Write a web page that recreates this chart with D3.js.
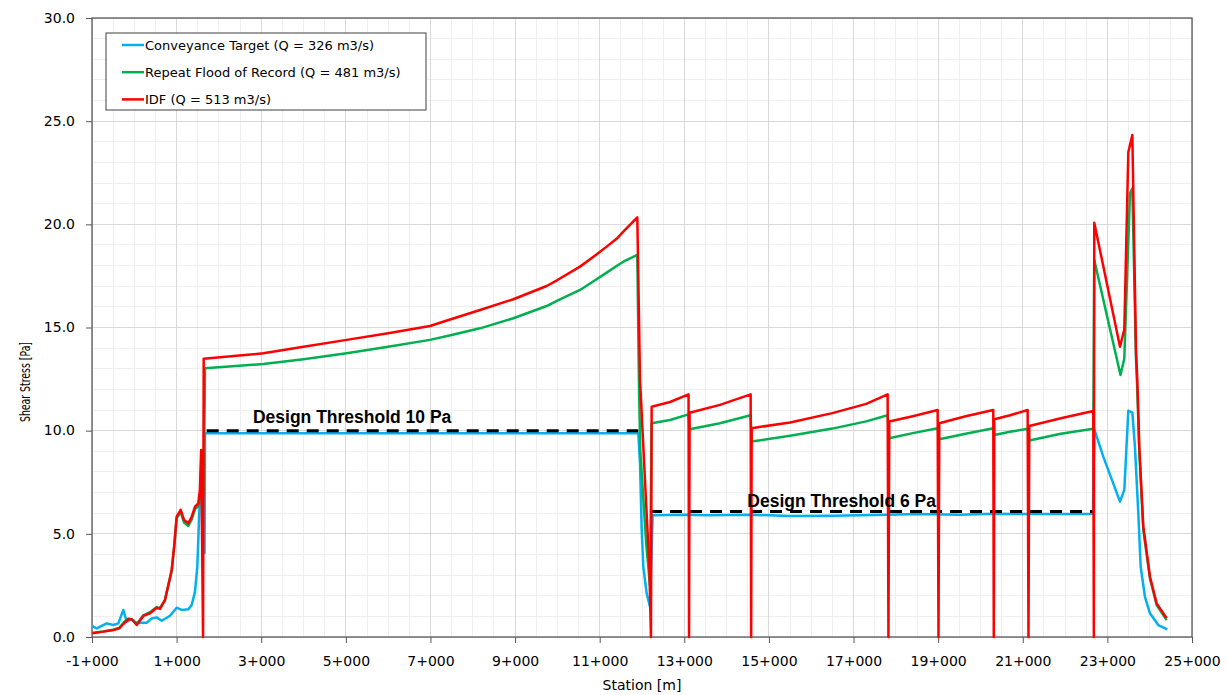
<!DOCTYPE html>
<html><head><meta charset="utf-8">
<script src="https://cdn.jsdelivr.net/npm/d3@7"></script>
<style>body{margin:0;background:#fff}svg{display:block}</style>
</head><body>
<svg id="chart" width="1228" height="695"></svg>
<script>
// ---------------- DATA ----------------
const seriesNames = [
  "Conveyance Target (Q = 326 m3/s)",
  "Repeat Flood of Record (Q = 481 m3/s)",
  "IDF (Q = 513 m3/s)"
];
const seriesColors = ["#00b0f0", "#00b050", "#ff0000"];

// [station (m), shear stress (Pa)]
const conveyanceTarget = [
  [-993,0.53],[-889,0.42],[-653,0.66],[-496,0.58],[-378,0.66],[-260,1.31],[-180,0.74],[-62,0.86],
  [57,0.69],[293,0.69],[411,0.9],[529,0.95],[647,0.79],[844,1.03],[1001,1.42],[1120,1.31],
  [1276,1.34],[1357,1.55],[1435,2.2],[1489,3.41],[1536,6.0],[1593,8.9],[1660,4.06],[1671,9.88],
  [3000,9.88],[5000,9.88],[7000,9.87],[9000,9.88],[11000,9.88],[11913,9.88],[11953,8.4],
  [11993,5.2],[12031,3.4],[12111,2.1],[12189,1.47],[12251,5.9],[13100,5.93],[13500,5.9],
  [14600,5.92],[15500,5.87],[16500,5.88],[17800,5.93],[18500,5.96],[19500,5.93],[20300,5.97],
  [21100,5.96],[22000,5.96],[22660,5.97],[22690,10.07],[22903,8.74],[23298,6.56],[23400,7.13],
  [23495,10.97],[23590,10.87],[23652,9.2],[23731,6.0],[23787,3.4],[23888,1.95],[24006,1.15],
  [24203,0.58],[24416,0.37]
];
const repeatFloodOfRecord = [
  [-993,0.2],[-733,0.27],[-496,0.35],[-355,0.45],[-260,0.68],[-142,0.9],[-62,0.85],[57,0.62],
  [213,1.05],[371,1.2],[529,1.45],[607,1.4],[725,1.8],[884,3.2],[945,4.4],[1001,5.75],
  [1096,6.05],[1175,5.55],[1276,5.38],[1357,5.7],[1435,6.2],[1513,6.35],[1560,6.7],[1640,7.0],
  [1671,13.02],[3049,13.23],[4000,13.46],[5020,13.75],[6000,14.07],[6989,14.4],[7500,14.64],
  [8171,14.96],[8959,15.45],[9747,16.04],[10000,16.3],[10535,16.82],[10900,17.3],[11165,17.66],
  [11400,17.98],[11558,18.19],[11889,18.52],[11930,12.0],[11960,9.0],[12100,4.5],
  [12189,2.5],[12228,10.36],[12662,10.52],[13100,10.79],
  [13125,10.07],[13843,10.36],[14568,10.75],
  [14592,9.47],[15500,9.75],[16500,10.1],[17300,10.45],[17806,10.75],
  [17845,9.63],[18400,9.88],[18988,10.12],
  [19027,9.58],[19650,9.85],[20303,10.12],
  [20327,9.79],[20700,9.95],[21115,10.09],
  [21154,9.52],[21900,9.85],[22667,10.09],
  [22690,18.27],[23310,12.7],[23400,13.5],[23534,21.5],[23590,21.75],[23676,13.5],[23707,12.0],
  [23754,9.0],[23849,5.2],[24006,2.85],[24164,1.55],[24400,0.82]
];
const idf = [
  [-993,0.18],[-733,0.26],[-496,0.34],[-355,0.42],[-260,0.63],[-142,0.86],[-62,0.86],[57,0.58],
  [213,1.02],[371,1.15],[529,1.42],[607,1.36],[725,1.79],[884,3.25],[945,4.46],[1001,5.83],
  [1096,6.16],[1175,5.67],[1276,5.51],[1357,5.83],[1435,6.32],[1513,6.48],[1550,7.1],[1580,9.06],
  [1625,0],[1640,13.48],[3049,13.75],[4000,14.07],[5020,14.4],[6000,14.72],[6989,15.07],
  [7500,15.41],[8171,15.85],[8959,16.37],[9747,17.01],[10000,17.3],[10535,17.95],[10900,18.5],
  [11165,18.92],[11400,19.3],[11558,19.65],[11889,20.34],[11953,12.46],
  [12173,3.4],[12212,0],[12228,11.16],[12662,11.39],[13100,11.76],
  [13112,0],[13125,10.87],[13843,11.25],[14568,11.76],
  [14580,0],[14592,10.12],[15500,10.4],[16500,10.85],[17300,11.3],[17806,11.76],
  [17825,0],[17845,10.44],[18400,10.7],[18988,11.0],
  [19008,0],[19027,10.36],[19650,10.7],[20303,11.0],
  [20315,0],[20327,10.55],[20700,10.75],[21115,11.0],
  [21135,0],[21154,10.23],[21900,10.6],[22667,10.95],
  [22680,0],[22690,20.08],[23298,14.07],[23400,14.9],[23495,23.5],[23590,24.33],[23676,13.9],
  [23707,12.46],[23754,9.22],[23849,5.35],[24006,2.92],[24164,1.63],[24400,0.91]
];
const seriesData = [conveyanceTarget, repeatFloodOfRecord, idf];

const thresholdLabels = ["Design Threshold 10 Pa", "Design Threshold 6 Pa"];
const thresholdValues = [10.0, 6.08];
const thresholdFrom = [1711, 12189];
const thresholdTo = [11912, 22667];
const thresholdLabelStation = [2805, 14489];

const xTickValues = [-1000,1000,3000,5000,7000,9000,11000,13000,15000,17000,19000,21000,23000,25000];
const xTickLabels = ["-1+000","1+000","3+000","5+000","7+000","9+000","11+000","13+000","15+000","17+000","19+000","21+000","23+000","25+000"];
const yTickValues = [0,5,10,15,20,25,30];
const yTickLabels = ["0.0","5.0","10.0","15.0","20.0","25.0","30.0"];
const xTitle = "Station [m]";
const yTitle = "Shear Stress [Pa]";

// ---------------- CHART ----------------
const svg = d3.select("#chart");
const pL = 92, pR = 1192, pT = 18, pB = 637;
const x = d3.scaleLinear().domain([-1000, 25000]).range([pL, pR]);
const y = d3.scaleLinear().domain([0, 30]).range([pB, pT]);
const font = "'DejaVu Sans', sans-serif";

// minor grid
svg.append("g").selectAll("line").data(d3.range(-1000, 25001, 500)).join("line")
  .attr("x1", d => x(d)).attr("x2", d => x(d)).attr("y1", pT).attr("y2", pB)
  .attr("stroke", "#efefef").attr("stroke-width", 1).attr("shape-rendering", "crispEdges");
svg.append("g").selectAll("line").data(d3.range(0, 31, 1)).join("line")
  .attr("y1", d => y(d)).attr("y2", d => y(d)).attr("x1", pL).attr("x2", pR)
  .attr("stroke", "#efefef").attr("stroke-width", 1).attr("shape-rendering", "crispEdges");
// major grid
svg.append("g").selectAll("line").data(xTickValues).join("line")
  .attr("x1", d => x(d)).attr("x2", d => x(d)).attr("y1", pT).attr("y2", pB)
  .attr("stroke", "#d9d9d9").attr("stroke-width", 1).attr("shape-rendering", "crispEdges");
svg.append("g").selectAll("line").data(yTickValues).join("line")
  .attr("y1", d => y(d)).attr("y2", d => y(d)).attr("x1", pL).attr("x2", pR)
  .attr("stroke", "#d9d9d9").attr("stroke-width", 1).attr("shape-rendering", "crispEdges");

// axes
const xAxis = d3.axisBottom(x).tickValues(xTickValues)
  .tickFormat((d, i) => xTickLabels[i]).tickSize(6).tickSizeOuter(0);
const gx = svg.append("g").attr("transform", `translate(0,${pB})`).call(xAxis);
gx.select(".domain").remove();
gx.selectAll(".tick line").attr("stroke", "#595959");
gx.selectAll(".tick text").attr("font-family", font).attr("font-size", 14)
  .attr("fill", "#000").attr("y", 29).attr("dy", 0);

const yAxis = d3.axisLeft(y).tickValues(yTickValues)
  .tickFormat((d, i) => yTickLabels[i]).tickSize(6).tickSizeOuter(0);
const gy = svg.append("g").attr("transform", `translate(${pL},0)`).call(yAxis);
gy.select(".domain").remove();
gy.selectAll(".tick line").attr("stroke", "#595959");
gy.selectAll(".tick text").attr("font-family", font).attr("font-size", 14)
  .attr("fill", "#000").attr("x", -17).attr("dy", "0.3em");

// frame
svg.append("rect").attr("x", pL).attr("y", pT).attr("width", pR - pL).attr("height", pB - pT)
  .attr("fill", "none").attr("stroke", "#595959").attr("stroke-width", 1.3);

// series
const line = d3.line().x(d => x(d[0])).y(d => y(d[1]));
const drawSeries = i => svg.append("path").datum(seriesData[i]).attr("d", line)
  .attr("fill", "none").attr("stroke", seriesColors[i]).attr("stroke-width", 2.5)
  .attr("stroke-linejoin", "round");
drawSeries(0);
drawSeries(1);

// threshold lines
thresholdValues.forEach((v, i) => {
  svg.append("line").attr("x1", x(thresholdFrom[i])).attr("x2", x(thresholdTo[i]))
    .attr("y1", y(v)).attr("y2", y(v)).attr("stroke", "#000").attr("stroke-width", 3)
    .attr("stroke-dasharray", "12,8");
});
drawSeries(2);

thresholdValues.forEach((v, i) => {
  svg.append("text").attr("x", x(thresholdLabelStation[i])).attr("y", y(v) - (i === 0 ? 8 : 4.5))
    .attr("font-family", "'Liberation Sans', Arial, sans-serif").attr("font-weight", "bold")
    .attr("font-size", 17.5).attr("fill", "#000").text(thresholdLabels[i]);
});

// axis titles
svg.append("text").attr("x", (pL + pR) / 2).attr("y", 690).attr("text-anchor", "middle")
  .attr("font-family", font).attr("font-size", 14).attr("fill", "#000").text(xTitle);
svg.append("text").attr("transform", "translate(25,382) rotate(-90)")
  .attr("text-anchor", "middle").attr("dominant-baseline", "central")
  .attr("font-family", font).attr("font-size", 14).attr("fill", "#000")
  .attr("textLength", 80).attr("lengthAdjust", "spacingAndGlyphs").text(yTitle);

// legend
const lg = svg.append("g");
lg.append("rect").attr("x", 106).attr("y", 33).attr("width", 320).attr("height", 77)
  .attr("fill", "#fff").attr("stroke", "#404040").attr("stroke-width", 1);
seriesNames.forEach((name, i) => {
  const cy = 45 + i * 27.2;
  lg.append("line").attr("x1", 122).attr("x2", 144).attr("y1", cy).attr("y2", cy)
    .attr("stroke", seriesColors[i]).attr("stroke-width", 2.5);
  lg.append("text").attr("x", 145).attr("y", cy).attr("dominant-baseline", "central")
    .attr("font-family", font).attr("font-size", 13).attr("fill", "#000").text(name);
});
</script>
</body></html>
